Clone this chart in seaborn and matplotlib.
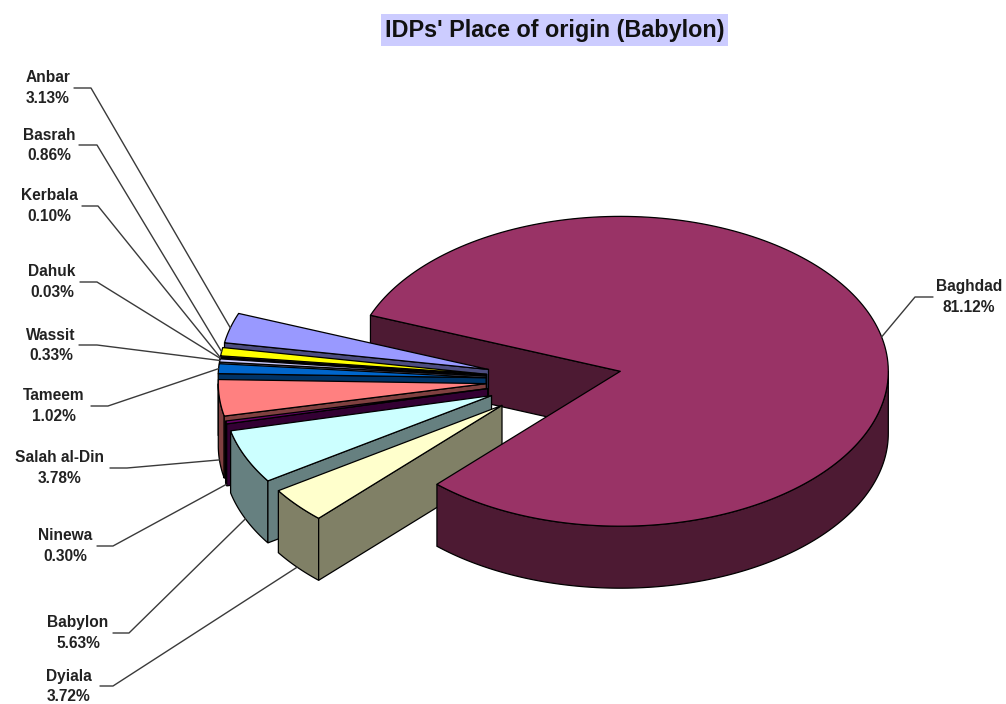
import numpy as np
import seaborn as sns
import matplotlib
matplotlib.use('Agg')
import matplotlib.pyplot as plt

# slices, counter clockwise starting from the upper left edge of Baghdad
regions = ['Anbar', 'Basrah', 'Kerbala', 'Dahuk', 'Wassit', 'Tameem',
           'Salah al-Din', 'Ninewa', 'Babylon', 'Dyiala', 'Baghdad']
shares = [3.13, 0.86, 0.10, 0.03, 0.33, 1.02, 3.78, 0.30, 5.63, 3.72, 81.12]
colors = ['#9999FF', '#FFFF00', '#FF00FF', '#000080', '#CCCCFF', '#0066CC',
          '#FF8080', '#660066', '#CCFFFF', '#FFFFCC', '#993366']

# label layout: centre x, y of first line, leader start, elbow
label_x = [48, 49, 49, 52, 51, 54, 60, 65, 78, 69, 969]
label_y = [78, 135, 196, 272, 335, 396, 458, 536, 623, 676, 287]
leader_x0 = [74, 79, 82, 80, 79, 91, 110, 97, 113, 100, 933]
leader_x1 = [91, 97, 98, 97, 97, 108, 127, 113, 129, 113, 915]

# pie geometry in pixels
CX, CY = 554, 380
RX, SQUASH = 268, 0.578
EXPLODE = 68
DEPTH = 62
START = 158.8

sns.set_theme(style='white')
plt.rcParams['font.family'] = ['Liberation Sans', 'DejaVu Sans']

fig = plt.figure(figsize=(10.06, 7.04), dpi=100)
ax = fig.add_axes([0, 0, 1, 1])
ax.set_xlim(0, 1006)
ax.set_ylim(704, 0)
ax.axis('off')

palette = sns.color_palette(colors)
sides = [tuple(c * 0.5 for c in col) for col in palette]

sweeps = np.array(shares) / sum(shares) * 360
ends = START + np.cumsum(sweeps)
starts = ends - sweeps


def project(ox, oy, deg):
    rad = np.radians(deg)
    return ox + RX * np.cos(rad), oy - RX * SQUASH * np.sin(rad)


def apex(mid):
    rad = np.radians(mid)
    return CX + EXPLODE * np.cos(rad), CY - EXPLODE * SQUASH * np.sin(rad)


def draw_top(ox, oy, a0, a1, col):
    t = np.linspace(a0, a1, 200)
    xs, ys = project(ox, oy, t)
    ax.fill(np.r_[ox, xs], np.r_[oy, ys], fc=col, ec='black', lw=0.9, joinstyle='round')


def draw_wall(ox, oy, a0, a1, col):
    # only the part of the rim in the front half can be seen
    walls = []
    for k in (0, 1):
        lo, hi = max(a0, 180 + 360 * k), min(a1, 360 + 360 * k)
        if hi > lo:
            walls.append((lo, hi))
    for lo, hi in walls:
        t = np.linspace(lo, hi, 120)
        xs, ys = project(ox, oy, t)
        ax.fill(np.r_[xs, xs[::-1]], np.r_[ys, ys[::-1] + DEPTH], fc=col, ec='black', lw=0.9)


def draw_cut(ox, oy, deg, col):
    x, y = project(ox, oy, deg)
    ax.fill([ox, x, x, ox], [oy, y, y + DEPTH, oy + DEPTH], fc=col, ec='black', lw=0.9)


# Baghdad wraps around behind the small slices, its cut face goes first
big = len(regions) - 1
big_mid = (starts[big] + ends[big]) / 2
bx, by = apex(big_mid)
draw_cut(bx, by, ends[big] % 360, sides[big])

for i in range(big):
    mid = (starts[i] + ends[i]) / 2
    ox, oy = apex(mid)
    draw_wall(ox, oy, starts[i], ends[i], sides[i])
    draw_cut(ox, oy, ends[i], sides[i])
    draw_top(ox, oy, starts[i], ends[i], palette[i])

draw_wall(bx, by, starts[big], ends[big], sides[big])
draw_top(bx, by, starts[big], ends[big], palette[big])

# labels and leader lines
for i, name in enumerate(regions):
    mid = (starts[i] + ends[i]) / 2
    ox, oy = apex(mid)
    ex, ey = project(ox, oy, mid)
    if np.sin(np.radians(mid)) < 0:
        ey += DEPTH
    ly = label_y[i] + 10
    ax.plot([leader_x0[i], leader_x1[i], ex], [ly, ly, ey], color='#3a3a3a', lw=1)
    ax.text(label_x[i], label_y[i], name, ha='center', va='center',
            fontsize=11.2, fontweight='bold', color='#222222')
    ax.text(label_x[i], label_y[i] + 20.5, f'{shares[i]:.2f}%', ha='center', va='center',
            fontsize=11.2, fontweight='bold', color='#222222')

ax.text(554.5, 30, "IDPs' Place of origin (Babylon)", ha='center', va='center',
        fontsize=16.8, fontweight='bold', color='#111111',
        bbox=dict(facecolor='#CCCCFF', edgecolor='none', pad=3))

fig.savefig('out.png', dpi=100)
